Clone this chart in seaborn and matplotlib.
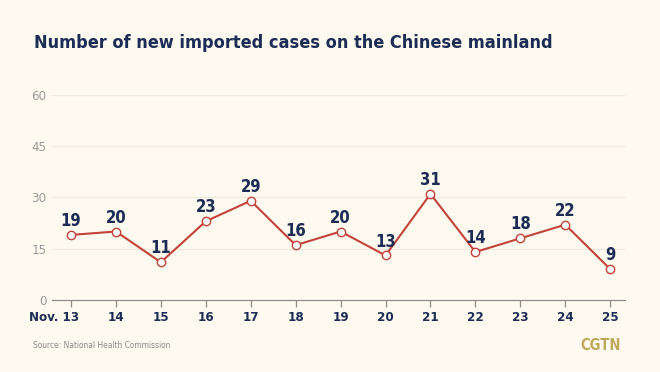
import matplotlib
matplotlib.use("Agg")
from matplotlib import pyplot as plt
import pandas as pd
import seaborn as sns

# dados
dias = [13, 14, 15, 16, 17, 18, 19, 20, 21, 22, 23, 24, 25]
rotulos_x = ["Nov. 13", "14", "15", "16", "17", "18", "19", "20", "21", "22", "23", "24", "25"]
casos = [19, 20, 11, 23, 29, 16, 20, 13, 31, 14, 18, 22, 9]
ticks_y = [0, 15, 30, 45, 60]

titulo = "Number of new imported cases on the Chinese mainland"
fonte = "Source: National Health Commission"

fundo = "#fefaef"
azul = "#1b2c55"
vermelho = "#c3423a"
cinza = "#9a9a9a"

sns.set_theme(style="white")
plt.rcParams["font.family"] = ["DejaVu Sans"]
plt.rcParams["font.stretch"] = "condensed"

df = pd.DataFrame({"dia": dias, "casos": casos})

fig = plt.figure(figsize=(6.6, 3.72), dpi=100, facecolor=fundo)
ax = fig.add_axes([0.079, 0.194, 0.868, 0.551], facecolor=fundo)

for t in ticks_y[1:]:
    ax.axhline(t, color="#efeadc", lw=0.9, zorder=0)

sns.lineplot(data=df, x="dia", y="casos", ax=ax, color=vermelho, lw=1.5,
             marker="o", markersize=6, markerfacecolor="white",
             markeredgecolor=vermelho, markeredgewidth=1.0, zorder=3)

for d, c in zip(dias, casos):
    ax.annotate(str(c), (d, c), xytext=(0, 3.5), textcoords="offset points",
                ha="center", va="bottom", fontsize=12, fontweight="bold",
                fontstretch="condensed", color=azul)

ax.set_xlim(12.58, 25.33)
ax.set_ylim(0, 60)
ax.set_xticks(dias)
# o primeiro rotulo vai a parte, com o numero embaixo do tick
ax.set_xticklabels([""] + rotulos_x[1:], fontsize=9.5, fontweight="bold", color=azul,
                   fontstretch="condensed")
ax.annotate(rotulos_x[0], xy=(dias[0], 0), xycoords=("data", "axes fraction"),
            xytext=(5.5, -8), textcoords="offset points", ha="right", va="top",
            fontsize=9.5, fontweight="bold", color=azul, fontstretch="condensed")
ax.set_yticks(ticks_y)
ax.set_yticklabels([str(t) for t in ticks_y], fontsize=9.5, color=cinza, fontstretch="condensed")
ax.set_xlabel("")
ax.set_ylabel("")

for s in ["top", "right", "left"]:
    ax.spines[s].set_visible(False)
ax.spines["bottom"].set_color("#8c8c8c")
ax.spines["bottom"].set_linewidth(0.9)
ax.tick_params(axis="x", length=5, width=0.9, color="#8c8c8c", pad=3, bottom=True)
ax.tick_params(axis="y", length=0, pad=4)

fig.text(0.052, 0.885, titulo, fontsize=13, fontweight="bold", color=azul, ha="left",
         va="center", fontstretch="condensed")
fig.text(0.05, 0.07, fonte, fontsize=6, color="#8a8a8a", ha="left", va="center",
         fontstretch="condensed")
fig.text(0.941, 0.07, "CGTN", fontsize=10.5, fontweight="bold", color="#bfa85a", ha="right",
         va="center", fontstretch="condensed")

fig.savefig("out.png", dpi=100, facecolor=fundo)
